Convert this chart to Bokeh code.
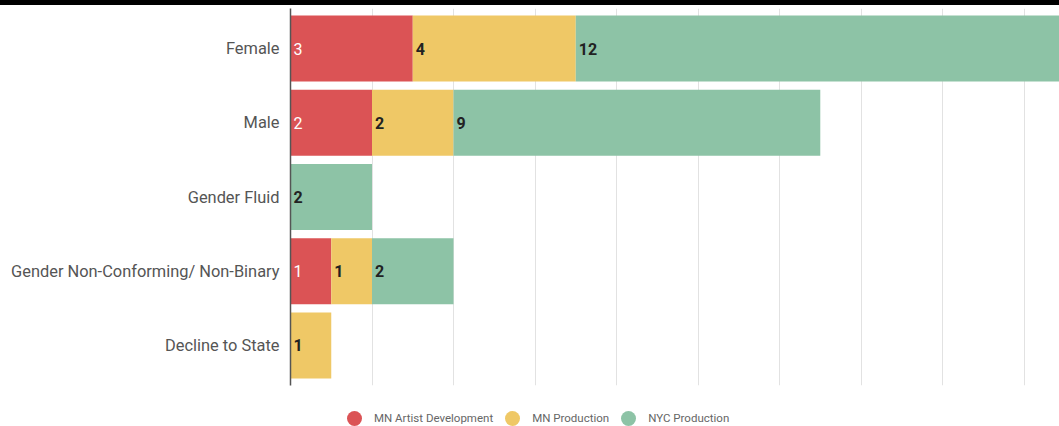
from bokeh.plotting import figure
from bokeh.layouts import column
from bokeh.models import (ColumnDataSource, FactorRange, Range1d, Grid,
                          SingleIntervalTicker, Div)
from bokeh.embed import file_html
from bokeh.resources import INLINE
from bokeh.core.properties import value

categories = ["Female", "Male", "Gender Fluid",
              "Gender Non-Conforming/ Non-Binary", "Decline to State"]
series_names = ["MN Artist Development", "MN Production", "NYC Production"]
mn_artist_dev = [3, 2, 0, 1, 0]
mn_production = [4, 2, 0, 1, 1]
nyc_production = [12, 9, 2, 2, 0]
colors = ["#DB5355", "#EFC866", "#8DC3A6"]
label_colors = ["#FFFFFF", "#222222", "#222222"]
label_styles = ["normal", "bold", "bold"]

keys = ["mn_ad", "mn_prod", "nyc_prod"]
source = ColumnDataSource(dict(cat=categories, mn_ad=mn_artist_dev,
                               mn_prod=mn_production, nyc_prod=nyc_production))

p = figure(width=1059, height=396, output_backend="svg", toolbar_location=None,
           y_range=FactorRange(factors=list(reversed(categories)), range_padding=0.016),
           x_range=Range1d(0, 18.87), x_axis_location=None,
           min_border_left=290, min_border_right=0, min_border_top=3, min_border_bottom=16,
           styles={"border-top": "5px solid #000000"})
p.outline_line_color = None
p.background_fill_color = "white"
p.border_fill_color = "white"
p.ygrid.visible = False
for g in list(p.xgrid):
    g.visible = False
grid = Grid(dimension=0, ticker=SingleIntervalTicker(interval=2),
            grid_line_color="#E2E2E2", grid_line_width=1)
p.add_layout(grid)

p.hbar_stack(keys, y="cat", height=0.89, color=colors, source=source, line_width=0)

# value labels
lx, ly, lt, lc, ls = [], [], [], [], []
for i, cat in enumerate(categories):
    start = 0
    for k, vals in enumerate([mn_artist_dev, mn_production, nyc_production]):
        v = vals[i]
        if v > 0:
            lx.append(start); ly.append(cat); lt.append(str(v))
            lc.append(label_colors[k]); ls.append(label_styles[k])
        start += v
lsrc = ColumnDataSource(dict(x=lx, y=ly, t=lt, c=lc, s=ls))
p.text(x="x", y="y", text="t", source=lsrc, x_offset=3, text_baseline="middle",
       text_align="left", text_font=value("Roboto"), text_font_size="16px",
       text_color="c", text_font_style="s")

yax = p.yaxis[0]
yax.axis_line_color = "#555555"
yax.axis_line_width = 1.5
yax.major_tick_line_color = None
yax.minor_tick_line_color = None
yax.major_label_text_font = "Roboto"
yax.major_label_text_font_size = "16.4px"
yax.major_label_text_color = "#555555"
yax.major_label_standoff = 5

# legend (HTML), built from the series names and colours
parts = []
for name, c in zip(series_names, colors):
    parts.append(
        f'<span style="display:inline-block;width:15px;height:15px;border-radius:50%;'
        f'background:{c};margin-right:12px;flex:none;"></span>'
        f'<span style="margin-right:12px;white-space:nowrap;">{name}</span>')
legend_html = ('<div style="display:flex;align-items:center;height:17px;position:relative;top:5px;'
               'padding-left:347px;padding-top:17px;font-family:Roboto;font-size:11.5px;'
               'color:#666666;">' + "".join(parts) + '</div>')
legend_div = Div(text=legend_html, width=1059, height=30, styles={"margin": "0px"})

layout = column(p, legend_div, spacing=0)
open("out.html", "w").write(file_html(layout, INLINE))
